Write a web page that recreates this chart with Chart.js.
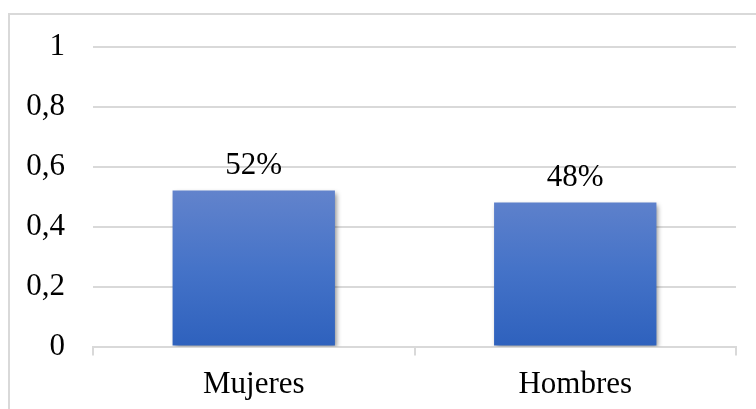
<!DOCTYPE html>
<html>
<head>
<meta charset="utf-8">
<script src="https://cdn.jsdelivr.net/npm/chart.js@4/dist/chart.umd.min.js"></script>
<style>
  html, body { margin: 0; padding: 0; background: #fff; }
  #wrap { width: 756px; height: 409px; }
</style>
</head>
<body>
<div id="wrap"><canvas id="genero"></canvas></div>
<script>
const categories = ['Mujeres', 'Hombres'];
const shares = [0.52, 0.48];
const shareLabels = ['52%', '48%'];
const yTicks = [0, 0.2, 0.4, 0.6, 0.8, 1];

const serif = "'Liberation Serif', 'Times New Roman', serif";
const gridColor = '#d9d9d9';

// light frame on top and left of the figure
const framePlugin = {
  id: 'frame',
  beforeDraw(chart) {
    const ctx = chart.ctx;
    ctx.save();
    ctx.strokeStyle = gridColor;
    ctx.lineWidth = 2;
    ctx.beginPath();
    ctx.moveTo(9, chart.height);
    ctx.lineTo(9, 14);
    ctx.lineTo(chart.width, 14);
    ctx.stroke();
    ctx.restore();
  },
};

// soft shadow under the bars
const shadowPlugin = {
  id: 'barShadow',
  beforeDatasetDraw(chart) {
    const ctx = chart.ctx;
    ctx.save();
    ctx.shadowColor = 'rgba(0, 0, 0, 0.45)';
    ctx.shadowBlur = 5;
    ctx.shadowOffsetX = 2;
    ctx.shadowOffsetY = 2;
  },
  afterDatasetDraw(chart) {
    chart.ctx.restore();
  },
};

// percentage text above each bar
const valueLabels = {
  id: 'valueLabels',
  afterDatasetsDraw(chart) {
    const ctx = chart.ctx;
    const meta = chart.getDatasetMeta(0);
    ctx.save();
    ctx.font = '31px ' + serif;
    ctx.fillStyle = '#000';
    ctx.textAlign = 'center';
    ctx.textBaseline = 'alphabetic';
    meta.data.forEach((bar, i) => {
      ctx.fillText(shareLabels[i], bar.x, bar.y - 17);
    });
    ctx.restore();
  },
};

const ctx = document.getElementById('genero').getContext('2d');
const generoChart = new Chart(ctx, {
  type: 'bar',
  data: {
    labels: categories,
    datasets: [
      {
        data: shares,
        backgroundColor: context => {
          const area = context.chart.chartArea;
          if (!area) {
            return '#4472c4';
          }
          const y = context.chart.scales.y;
          const g = context.chart.ctx.createLinearGradient(0, y.getPixelForValue(0.52), 0, y.getPixelForValue(0));
          g.addColorStop(0, '#6283cc');
          g.addColorStop(0.5, '#4573c8');
          g.addColorStop(1, '#2e61bd');
          return g;
        },
        borderWidth: 0,
        categoryPercentage: 1,
        barPercentage: 0.505,
      },
    ],
  },
  options: {
    responsive: true,
    maintainAspectRatio: false,
    animation: false,
    layout: {
      padding: { top: 44, right: 20, bottom: 0, left: 0 },
    },
    plugins: {
      legend: { display: false },
      tooltip: { enabled: false },
    },
    scales: {
      x: {
        grid: {
          offset: true,
          drawOnChartArea: false,
          drawTicks: true,
          tickLength: 9,
          color: gridColor,
          lineWidth: 2,
        },
        border: { display: true, color: gridColor, width: 2 },
        ticks: {
          color: '#000',
          font: { family: serif, size: 31 },
          padding: 11,
        },
        afterFit: scale => {
          scale.height = 62.5;
        },
      },
      y: {
        min: 0,
        max: 1,
        afterBuildTicks: scale => {
          scale.ticks = yTicks.map(v => ({ value: v }));
        },
        grid: {
          color: gridColor,
          lineWidth: 2,
          drawTicks: false,
        },
        border: { display: false },
        ticks: {
          color: '#000',
          font: { family: serif, size: 31 },
          padding: 28,
          callback: v => String(Number(v.toFixed(1))).replace('.', ','),
        },
        afterFit: scale => {
          scale.width = 93;
        },
      },
    },
  },
  plugins: [framePlugin, shadowPlugin, valueLabels],
});
</script>
</body>
</html>
